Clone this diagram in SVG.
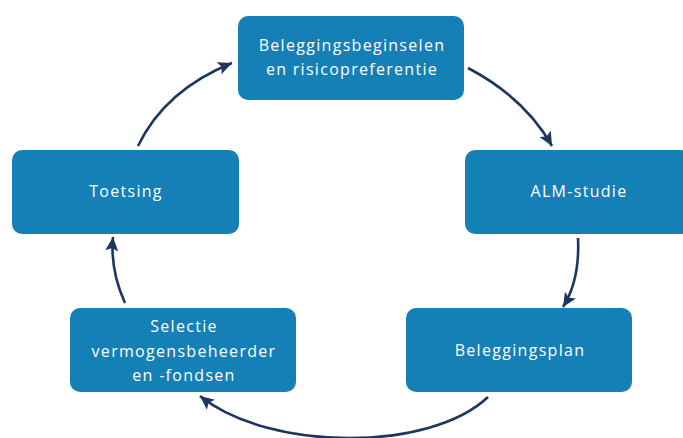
<svg xmlns="http://www.w3.org/2000/svg" width="683" height="438" viewBox="0 0 683 438">
  <style>
    .box { fill: #1580b5; }
    .label { fill: #ffffff; font-family: "Open Sans", "Liberation Sans", sans-serif; font-size: 16px; letter-spacing: 1.3px; text-anchor: middle; }
    .flow { fill: none; stroke: #1c365f; stroke-width: 2.6; marker-end: url(#head); }
  </style>
  <defs>
    <marker id="head" markerUnits="userSpaceOnUse" markerWidth="16" markerHeight="14" refX="14" refY="6.5" orient="auto">
      <path d="M0,0 L14,6.5 L0,13 L3,6.5 z" fill="#1c365f"/>
    </marker>
  </defs>

  <rect width="683" height="438" fill="#ffffff"/>

  <!-- process steps -->
  <g id="beginselen">
    <rect class="box" x="238" y="16" width="226" height="84" rx="10"/>
    <text class="label" x="352" y="51">Beleggingsbeginselen</text>
    <text class="label" x="352" y="75">en risicopreferentie</text>
  </g>
  <g id="alm">
    <rect class="box" x="465" y="150" width="226" height="84" rx="10"/>
    <text class="label" x="579" y="197">ALM-studie</text>
  </g>
  <g id="plan">
    <rect class="box" x="406" y="308" width="226" height="84" rx="10"/>
    <text class="label" x="520" y="356">Beleggingsplan</text>
  </g>
  <g id="selectie">
    <rect class="box" x="70" y="308" width="226" height="84" rx="10"/>
    <text class="label" x="184" y="332">Selectie</text>
    <text class="label" x="184" y="357">vermogensbeheerder</text>
    <text class="label" x="184" y="381">en -fondsen</text>
  </g>
  <g id="toetsing">
    <rect class="box" x="12" y="150" width="227" height="84" rx="10"/>
    <text class="label" x="126" y="197">Toetsing</text>
  </g>

  <!-- cycle connectors -->
  <g id="connectors">
    <path class="flow" d="M468,68 Q525,98 552,146"/>
    <path class="flow" d="M578,238 Q580,280 563,307"/>
    <path class="flow" d="M488,397 C430,452 270,452 200,396"/>
    <path class="flow" d="M125,303 Q110,270 113,237"/>
    <path class="flow" d="M138,146 Q165,90 232,63"/>
  </g>
</svg>
